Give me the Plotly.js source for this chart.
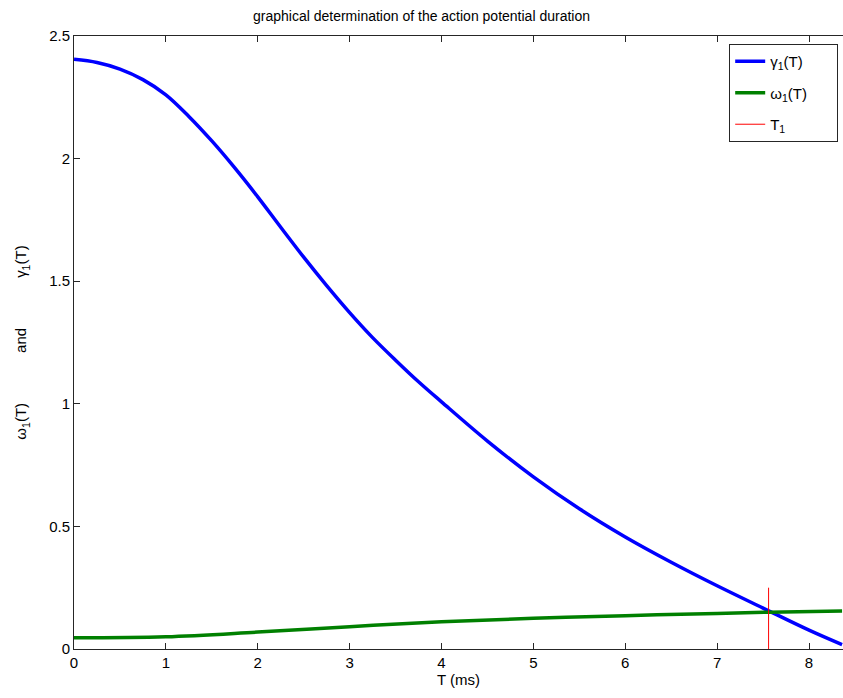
<!DOCTYPE html>
<html>
<head>
<meta charset="utf-8">
<script src="https://cdn.plot.ly/plotly-3.0.1.min.js"></script>
<style>html,body{margin:0;padding:0;overflow:hidden;background:#fff;}</style>
</head>
<body>
<div id="chart" style="width:843px;height:698px;"></div>
<script>
const T = [0, 0.25, 0.5, 0.75, 1.0, 1.25, 1.5, 1.75, 2.0, 2.25, 2.5, 2.75, 3.0, 3.25, 3.5, 3.75, 4.0, 4.5, 5.0, 5.5, 6.0, 6.5, 7.0, 7.5, 8.0, 8.36];
const gamma1 = [2.405, 2.392, 2.365, 2.322, 2.26, 2.172, 2.072, 1.962, 1.844, 1.72, 1.598, 1.482, 1.372, 1.27, 1.178, 1.09, 1.008, 0.848, 0.702, 0.572, 0.457, 0.354, 0.258, 0.167, 0.077, 0.018];
const Tw = [0, 1, 2, 3, 4, 5, 6, 7, 7.56, 8.36];
const omega1 = [0.046, 0.050, 0.069, 0.091, 0.111, 0.125, 0.136, 0.145, 0.150, 0.155];
const T1x = [7.56, 7.56];
const T1y = [0, 0.25];
const seriesNames = ['γ<sub>1</sub>(T)', 'ω<sub>1</sub>(T)', 'T<sub>1</sub>'];

const fam = '"Liberation Sans", Arial, Helvetica, sans-serif';
const sp = '\u00A0'.repeat(12);
const pad = '\u00A0'.repeat(6);

const traces = [
  {x: T, y: gamma1, mode: 'lines', name: seriesNames[0] + pad, legendgroup: 'a', line: {color: '#0000FF', width: 3.5, shape: 'spline', smoothing: 1}},
  {x: Tw, y: omega1, mode: 'lines', name: seriesNames[1] + pad, legendgroup: 'b', line: {color: '#008000', width: 3.5, shape: 'spline', smoothing: 1}},
  {x: T1x, y: T1y, mode: 'lines', name: seriesNames[2] + pad, legendgroup: 'c', line: {color: '#FF0000', width: 1}}
];

const layout = {
  width: 843, height: 698,
  margin: {l: 74, r: 0, t: 36, b: 49},
  paper_bgcolor: '#fff', plot_bgcolor: '#fff',
  font: {family: fam, size: 14, color: '#000'},
  title: {text: 'graphical determination of the action potential duration', font: {family: fam, size: 14, color: '#000'}, x: 0.5, xanchor: 'center', y: 0.977, yanchor: 'middle'},
  xaxis: {
    range: [0, 8.37], tickvals: [0,1,2,3,4,5,6,7,8],
    showgrid: false, zeroline: false, showline: true, linecolor: '#262626', linewidth: 1,
    mirror: 'ticks', ticks: 'inside', ticklen: 6, tickcolor: '#262626',
    tickfont: {family: fam, size: 15, color: '#000'},
    title: {text: 'T (ms)', font: {family: fam, size: 15, color: '#000'}, standoff: 4}
  },
  yaxis: {
    range: [0, 2.5], tickvals: [0, 0.5, 1, 1.5, 2, 2.5], ticktext: ['0', '0.5', '1', '1.5', '2', '2.5'],
    showgrid: false, zeroline: false, showline: true, linecolor: '#262626', linewidth: 1,
    mirror: false, ticks: 'inside', ticklen: 6, tickcolor: '#262626',
    tickfont: {family: fam, size: 15, color: '#000'},
    title: {text: 'ω<sub>1</sub>(T)' + sp + 'and' + sp + 'γ<sub>1</sub>(T)', font: {family: fam, size: 15, color: '#000'}, standoff: 18}
  },
  legend: {
    x: 0.852, xanchor: 'left', y: 0.987, yanchor: 'top',
    bgcolor: '#fff', bordercolor: '#262626', borderwidth: 1,
    font: {family: fam, size: 15, color: '#000'},
    traceorder: 'grouped', tracegroupgap: 9
  },
  showlegend: true
};

Plotly.newPlot('chart', traces, layout, {staticPlot: true, displayModeBar: false});
</script>
</body>
</html>
